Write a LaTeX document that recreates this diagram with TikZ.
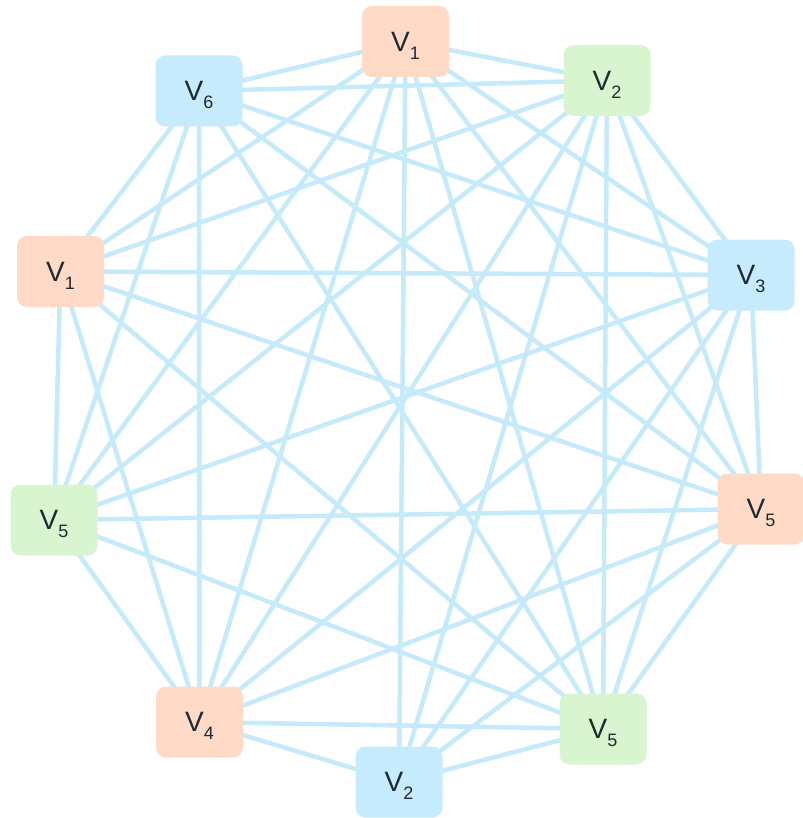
\documentclass[tikz,border=0pt]{standalone}
\usepackage{fontspec}
\setmainfont{Liberation Sans}
\usepackage{xcolor}
\definecolor{peach}{HTML}{FFDBC7}
\definecolor{mint}{HTML}{D9F5CF}
\definecolor{sky}{HTML}{C5EBFC}
\definecolor{wire}{HTML}{C5EAFA}
\definecolor{ink}{HTML}{1F2933}
\usepackage{tikz}
\usetikzlibrary{backgrounds}
\newcommand{\vlab}[1]{V\raisebox{-8pt}[0pt][0pt]{\fontsize{18}{18}\selectfont #1}}
\tikzset{
  vbox/.style={rounded corners=10pt,inner sep=0pt,minimum width=87pt,minimum height=71pt,
    text=ink,font=\fontsize{28}{30}\selectfont},
  pbox/.style={vbox,fill=peach},
  gbox/.style={vbox,fill=mint},
  bbox/.style={vbox,fill=sky},
  edge/.style={draw=wire,line width=4.5pt},
}

\begin{document}
\begin{tikzpicture}[x=1pt,y=-1pt]
\useasboundingbox (0,0) rectangle (802,818);
% vertices, clockwise from the top
\node[pbox] (n1) at (405.5,41.5) {\vlab{1}};
\node[gbox] (n2) at (607,80.5) {\vlab{2}};
\node[bbox] (n3) at (751,275) {\vlab{3}};
\node[pbox] (n4) at (761,509) {\vlab{5}};
\node[gbox] (n5) at (603,729) {\vlab{5}};
\node[bbox] (n6) at (399,782) {\vlab{2}};
\node[pbox] (n7) at (199.5,722) {\vlab{4}};
\node[gbox] (n8) at (54,520) {\vlab{5}};
\node[pbox] (n9) at (60.5,271.5) {\vlab{1}};
\node[bbox] (n10) at (199,91) {\vlab{6}};
% every pair joined, except bottom V2 with the three on the left
\begin{scope}[on background layer]
\foreach \a in {1,...,9} {
  \pgfmathtruncatemacro\b{\a+1}
  \foreach \c in {\b,...,10} {
    \pgfmathtruncatemacro\noedge{(\a==6)&&(\c>7)}
    \ifnum\noedge=0 \draw[edge] (n\a.center) -- (n\c.center); \fi
  }
}
\end{scope}
\end{tikzpicture}
\end{document}
